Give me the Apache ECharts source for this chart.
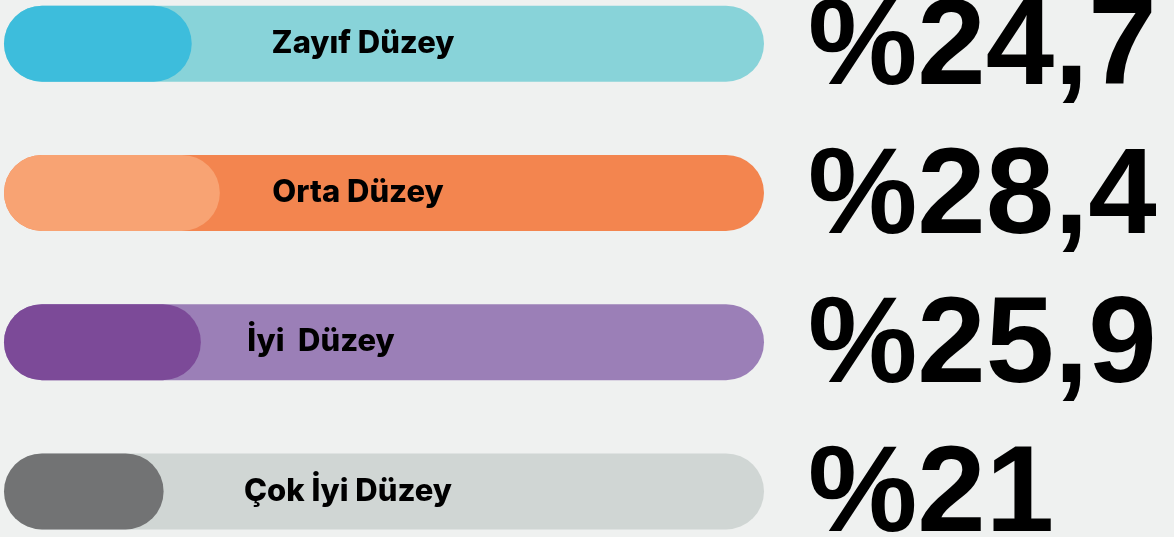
<!DOCTYPE html>
<html>
<head>
<meta charset="utf-8">
<script src="https://cdn.jsdelivr.net/npm/echarts@6/dist/echarts.min.js"></script>
<style>
  html, body { margin: 0; padding: 0; background: #eff1f0; }
  #chart { width: 1174px; height: 537px; }
</style>
</head>
<body>
<div id="chart"></div>
<script>
// düzey kategorileri ve yüzdeler
const categories = ["Zayıf Düzey", "Orta Düzey", "İyi  Düzey", "Çok İyi Düzey"];
const values = [24.7, 28.4, 25.9, 21];
const full = [100, 100, 100, 100];

// renkler: ön çubuk / arka çubuk
const fgColors = ["#3dbddc", "#f8a373", "#7c4a98", "#727374"];
const bgColors = ["#88d3d9", "#f3854f", "#9b7fb7", "#d0d6d4"];

// isim etiketlerinin çubuk başından uzaklığı
const nameOffset = [359, 354, 317, 344];

const chart = echarts.init(document.getElementById("chart"));

const option = {
  backgroundColor: "#eff1f0",
  animation: false,
  grid: { left: 4, top: -31, width: 760, height: 597, outerBoundsMode: "none" },
  xAxis: { type: "value", min: 0, max: 100, show: false },
  yAxis: { type: "category", data: categories, inverse: true, show: false },
  series: [
    {
      type: "bar",
      barWidth: 76,
      barGap: "-100%",
      data: full.map((v, i) => ({
        value: v,
        itemStyle: { color: bgColors[i], borderRadius: 38 }
      })),
      label: {
        show: true,
        position: "right",
        distance: 44,
        offset: [0, 6],
        color: "#000",
        fontFamily: "Liberation Sans",
        fontWeight: "bold",
        fontSize: 123,
        formatter: (p) => "%" + String(values[p.dataIndex]).replace(".", ",")
      }
    },
    {
      type: "bar",
      barWidth: 76,
      data: values.map((v, i) => ({
        value: v,
        itemStyle: { color: fgColors[i], borderRadius: 38 },
        label: {
          show: true,
          position: [nameOffset[i], "50%"],
          align: "center",
          verticalAlign: "middle",
          color: "#000",
          fontFamily: "Inter",
          fontWeight: 800,
          fontSize: 31,
          formatter: categories[i]
        }
      }))
    }
  ]
};

option && chart.setOption(option);
</script>
</body>
</html>
